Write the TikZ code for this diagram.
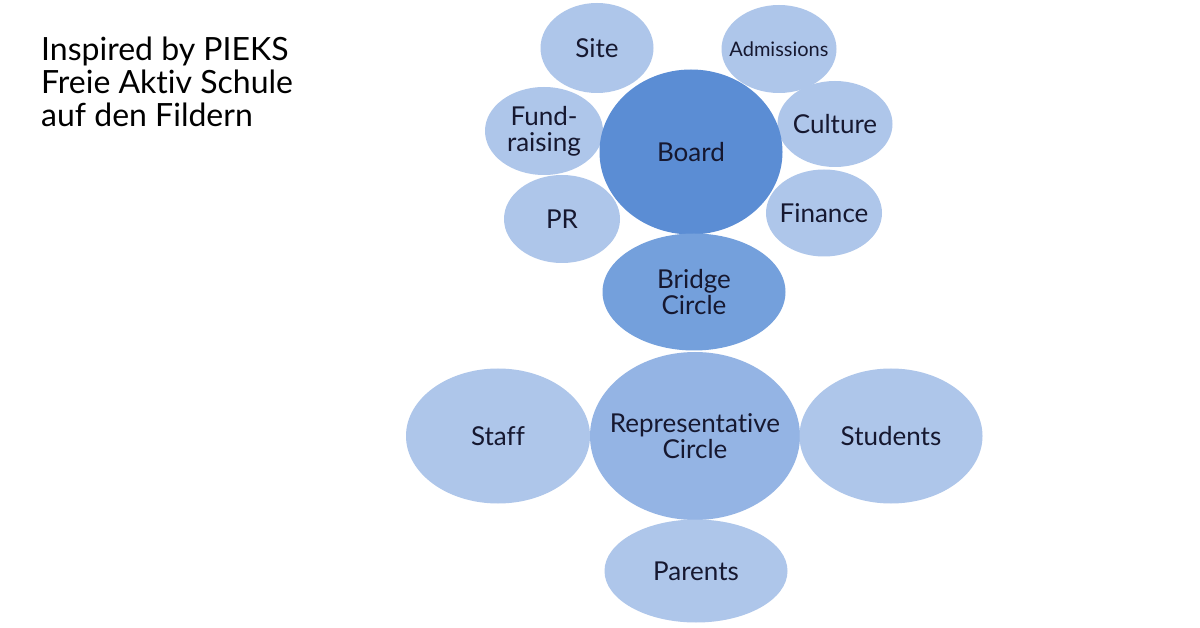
\documentclass[tikz,border=0pt]{standalone}
\usepackage{fontspec}
\setmainfont{Lato}[Ligatures={NoCommon}]
\usepackage{tikz}
\usetikzlibrary{positioning, shapes.geometric}
\definecolor{petal}{RGB}{174,198,234}
\definecolor{boardblue}{RGB}{91,141,212}
\definecolor{bridgeblue}{RGB}{116,160,220}
\definecolor{repblue}{RGB}{148,180,228}
\definecolor{ink}{RGB}{22,24,48}

\begin{document}
\begin{tikzpicture}[
  x=1pt, y=-1pt,
  bubble/.style={ellipse, fill=petal, inner sep=-16pt, align=center,
                 text=ink, font=\fontsize{26}{26}\selectfont},
  core/.style={bubble, minimum width=183pt},
]
  \useasboundingbox[fill=white] (0,0) rectangle (1200,628);

  \node[anchor=north west, align=left, text=black, inner sep=0pt,
        font=\fontsize{32}{33}\selectfont] (title) at (41,37)
        {Inspired by PIEKS\\Freie Aktiv Schule\\auf den Fildern};

  % petals round the board
  \node[bubble, minimum width=113pt, minimum height=90pt] (site)  at (597,48)  {Site};
  \node[bubble, minimum width=115pt, minimum height=88pt,
        font=\fontsize{20}{22}\selectfont]                (admit) at (779,49)  {Admissions};
  \node[bubble, minimum width=118pt, minimum height=88pt] (fund)  at (544,131) {Fund-\\raising};
  \node[bubble, minimum width=115pt, minimum height=86pt] (cult)  at (835,124) {Culture};
  \node[bubble, minimum width=116pt, minimum height=88pt] (pr)    at (562,219) {PR};
  \node[bubble, minimum width=116pt, minimum height=87pt] (fin)   at (824,213) {Finance};

  \node[core, fill=boardblue, minimum height=165pt]  (board)  at (691,152) {Board};
  \node[core, fill=bridgeblue, minimum height=117pt] (bridge) at (694,292) {Bridge\\Circle};
  \node[core, fill=repblue, minimum width=210pt, minimum height=168pt]
                                                     (rep)    at (695,436) {Representative\\Circle};

  % circles round the representative circle
  \node[bubble, minimum width=184pt, minimum height=135pt] (staff) at (498,436) {Staff};
  \node[bubble, minimum width=183pt, minimum height=135pt] (stud)  at (891,436) {Students};
  \node[bubble, minimum width=183pt, minimum height=103pt] (par)   at (696,571) {Parents};
\end{tikzpicture}
\end{document}
